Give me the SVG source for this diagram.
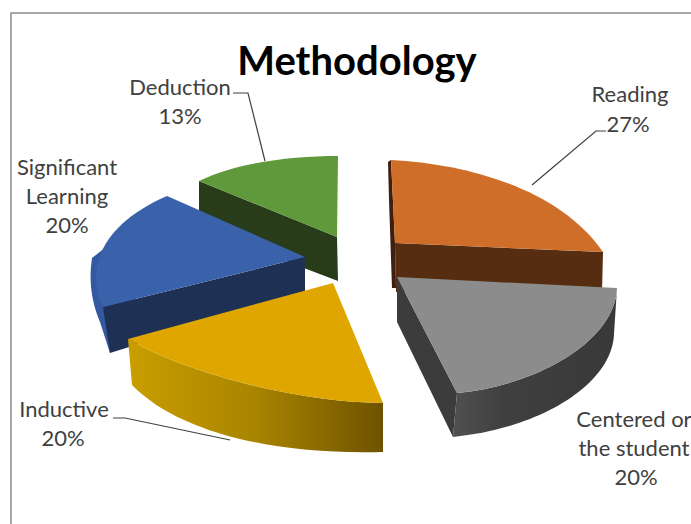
<svg xmlns="http://www.w3.org/2000/svg" width="691" height="524" viewBox="0 0 691 524">
  <defs>
    <style>
      .lbl { font-family: Lato, "Liberation Sans", sans-serif; font-size: 22px; fill: #404040; text-anchor: middle; }
      .title { font-family: Lato, "Liberation Sans", sans-serif; font-size: 40px; font-weight: bold; fill: #000; text-anchor: middle; }
      .leader { fill: none; stroke: #404040; stroke-width: 1.2; }
    </style>
    <linearGradient id="gYellowSide" x1="128" y1="0" x2="383" y2="0" gradientUnits="userSpaceOnUse">
      <stop offset="0" stop-color="#C99E00"/>
      <stop offset="0.5" stop-color="#A98400"/>
      <stop offset="1" stop-color="#6E5200"/>
    </linearGradient>
    <linearGradient id="gGreySide" x1="453" y1="0" x2="617" y2="0" gradientUnits="userSpaceOnUse">
      <stop offset="0" stop-color="#505050"/>
      <stop offset="0.3" stop-color="#404040"/>
      <stop offset="1" stop-color="#383838"/>
    </linearGradient>
  </defs>
  <rect x="0" y="0" width="691" height="524" fill="#ffffff"/>
  <rect x="11" y="13" width="720" height="540" fill="#ffffff" stroke="#8C8C8C" stroke-width="1.5"/>

  <text class="title" x="357" y="75">Methodology</text>

  <g id="slice-deduction">
    <path d="M199,181 L337,237 L338,281 L199,228 Z" fill="#283C1A"/>
    <path d="M337,237 L199,181 C235,163 290,156 338,156 Z" fill="#5F993C"/>
  </g>

  <g id="slice-reading">
    <path d="M395,243 L603,252 L602,292 L396,292 Z" fill="#562D10"/>
    <path d="M388,162 L391,160 L395,243 L396,288 L392,288 L389,200 Z" fill="#3F2010"/>
    <path d="M395,243 L391,160 C470,164 560,190 603,252 Z" fill="#CF6E29"/>
  </g>

  <g id="slice-significant">
    <path d="M92,258 C88,285 93,305 100,322 L110,353 L135,300 L115,240 Z" fill="#3459A0"/>
    <path d="M305,257 L103,307 L110,353 L305,292 Z" fill="#1E3154"/>
    <path d="M167,196 L305,257 L103,307 C85,270 100,225 167,196 Z" fill="#3A62AA"/>
  </g>

  <g id="slice-centered">
    <path d="M397,277 L457,393 L453,437 L397,322 Z" fill="#3C3C3C"/>
    <path d="M457,393 C540,385 615,340 617,288 L614,334 C612,386 537,429 453,437 Z" fill="url(#gGreySide)"/>
    <path d="M397,277 L617,288 C615,340 540,385 457,393 Z" fill="#8C8C8C"/>
  </g>

  <g id="slice-inductive">
    <path d="M128,339 C190,375 300,402 383,403 L383,452 C278,455 180,434 132,385 Z" fill="url(#gYellowSide)"/>
    <path d="M333,283 L128,339 C190,375 300,402 383,403 Z" fill="#DFA600"/>
  </g>

  <g id="connectors">
    <polyline class="leader" points="233,93 248,93 265,161"/>
    <polyline class="leader" points="532,185 596,131 606,131"/>
    <polyline class="leader" points="113,418 125,418 230,440"/>
  </g>

  <g id="label-deduction">
    <text class="lbl" x="180" y="95">Deduction</text>
    <text class="lbl" x="180" y="124">13%</text>
  </g>
  <g id="label-significant">
    <text class="lbl" x="67" y="175">Significant</text>
    <text class="lbl" x="67" y="204">Learning</text>
    <text class="lbl" x="67" y="233">20%</text>
  </g>
  <g id="label-reading">
    <text class="lbl" x="630" y="102">Reading</text>
    <text class="lbl" x="628" y="132">27%</text>
  </g>
  <g id="label-centered">
    <text class="lbl" x="634" y="427">Centered or</text>
    <text class="lbl" x="634" y="456">the student</text>
    <text class="lbl" x="636" y="485">20%</text>
  </g>
  <g id="label-inductive">
    <text class="lbl" x="64" y="417">Inductive</text>
    <text class="lbl" x="63" y="446">20%</text>
  </g>
</svg>
